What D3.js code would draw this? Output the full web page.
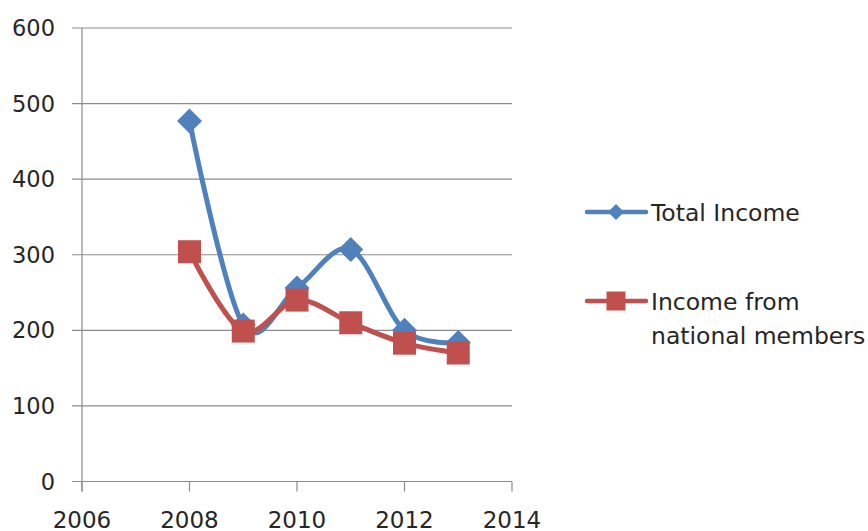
<!DOCTYPE html>
<html>
<head>
<meta charset="utf-8">
<script src="https://cdn.jsdelivr.net/npm/d3@7"></script>
<style>
  html, body { margin: 0; padding: 0; background: #ffffff; }
  svg { display: block; }
  text { font-family: "DejaVu Sans", "Liberation Sans", sans-serif; fill: #262626; }
</style>
</head>
<body>
<svg id="chart" width="868" height="531"></svg>
<script>
// Yearly income figures
const years = [2008, 2009, 2010, 2011, 2012, 2013];
const totalIncome = [477, 207, 256, 307, 200, 184];
const nationalIncome = [304, 199, 240, 210, 183, 170];
const seriesNames = ["Total Income", "Income from national members"];
const xTicks = [2006, 2008, 2010, 2012, 2014];
const yTicks = [0, 100, 200, 300, 400, 500, 600];

const svg = d3.select("#chart");
const plot = { left: 82, right: 512, top: 28, bottom: 481.5 };

const x = d3.scaleLinear().domain([2006, 2014]).range([plot.left, plot.right]);
const y = d3.scaleLinear().domain([0, 600]).range([plot.bottom, plot.top]);

const gridColor = "#8c8c8c";

// Horizontal gridlines with small outer ticks
svg.append("g")
  .selectAll("line")
  .data(yTicks)
  .join("line")
  .attr("x1", plot.left - 10)
  .attr("x2", plot.right)
  .attr("y1", d => y(d))
  .attr("y2", d => y(d))
  .attr("stroke", gridColor)
  .attr("stroke-width", 1.2);

// Vertical axis line
svg.append("line")
  .attr("x1", plot.left).attr("x2", plot.left)
  .attr("y1", plot.top).attr("y2", plot.bottom + 10)
  .attr("stroke", gridColor).attr("stroke-width", 1.2);

// X axis tick marks
svg.append("g")
  .selectAll("line")
  .data(xTicks)
  .join("line")
  .attr("x1", d => x(d)).attr("x2", d => x(d))
  .attr("y1", plot.bottom).attr("y2", plot.bottom + 10)
  .attr("stroke", gridColor).attr("stroke-width", 1.2);

// Y tick labels
svg.append("g")
  .selectAll("text")
  .data(yTicks)
  .join("text")
  .attr("x", 55)
  .attr("y", d => y(d))
  .attr("dy", "0.36em")
  .attr("text-anchor", "end")
  .attr("font-size", 22.5)
  .text(d => d);

// X tick labels
svg.append("g")
  .selectAll("text")
  .data(xTicks)
  .join("text")
  .attr("x", d => x(d))
  .attr("y", 528)
  .attr("text-anchor", "middle")
  .attr("font-size", 23)
  .text(d => d);

const series = [
  { name: seriesNames[0], values: totalIncome, color: "#4F81BD", marker: "diamond" },
  { name: seriesNames[1], values: nationalIncome, color: "#C0504D", marker: "square" }
];

const line = d3.line()
  .x(d => x(d.year))
  .y(d => y(d.value))
  .curve(d3.curveCardinal.tension(0));

function markerPath(type, r) {
  if (type === "diamond") {
    return `M0,${-r}L${r},0L0,${r}L${-r},0Z`;
  }
  return `M${-r},${-r}H${r}V${r}H${-r}Z`;
}

series.forEach(s => {
  const pts = years.map((yr, i) => ({ year: yr, value: s.values[i] }));
  const g = svg.append("g");
  g.append("path")
    .datum(pts)
    .attr("d", line)
    .attr("fill", "none")
    .attr("stroke", s.color)
    .attr("stroke-width", 5)
    .attr("stroke-linejoin", "round")
    .attr("stroke-linecap", "round");
  g.selectAll("path.marker")
    .data(pts)
    .join("path")
    .attr("class", "marker")
    .attr("transform", d => `translate(${x(d.year)},${y(d.value)})`)
    .attr("d", markerPath(s.marker, s.marker === "diamond" ? 12.5 : 11.5))
    .attr("fill", s.color);
});

// Legend
const legend = svg.append("g");
const legendItems = [
  { s: series[0], ly: 212, lines: ["Total Income"] },
  { s: series[1], ly: 301, lines: ["Income from", "national members"] }
];
legendItems.forEach(item => {
  legend.append("line")
    .attr("x1", 587).attr("x2", 646)
    .attr("y1", item.ly).attr("y2", item.ly)
    .attr("stroke", item.s.color).attr("stroke-width", 4.5)
    .attr("stroke-linecap", "round");
  legend.append("path")
    .attr("transform", `translate(616,${item.ly})`)
    .attr("d", markerPath(item.s.marker, item.s.marker === "diamond" ? 8 : 9.5))
    .attr("fill", item.s.color);
  item.lines.forEach((t, i) => {
    legend.append("text")
      .attr("x", 651)
      .attr("y", item.ly + 8.5 + i * 34)
      .attr("font-size", 23.5)
      .text(t);
  });
});
</script>
</body>
</html>
